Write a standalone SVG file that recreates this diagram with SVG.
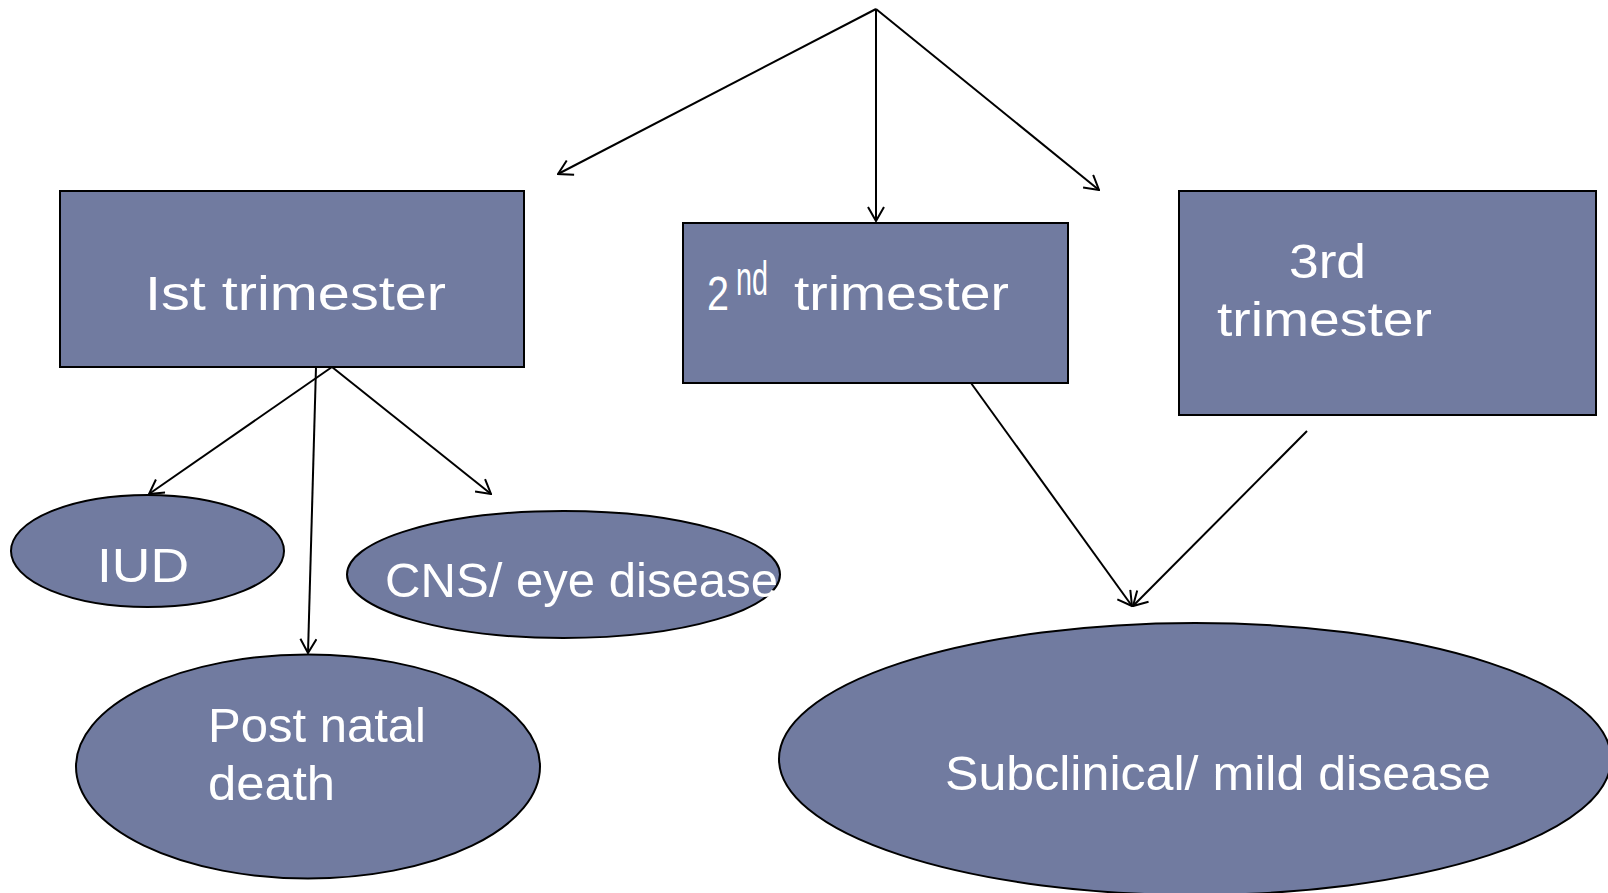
<svg xmlns="http://www.w3.org/2000/svg" width="1608" height="893" viewBox="0 0 1608 893">
<style>
.node{fill:#717BA0;stroke:#000;stroke-width:2}
.t{fill:#fff;font-family:"Liberation Sans",Arial,sans-serif;font-size:48px}
.c{stroke:#000;stroke-width:2;fill:none}
</style>
<defs>
<marker id="ah" viewBox="0 0 16 18" refX="15" refY="9" markerWidth="16" markerHeight="18" markerUnits="userSpaceOnUse" orient="auto">
<path d="M1,1 L15,9 L1,17" fill="none" stroke="#000" stroke-width="2"/>
</marker>
</defs>
<rect width="1608" height="893" fill="#fff"/>
<g id="connectors">
<line class="c" x1="876" y1="9" x2="558" y2="174" marker-end="url(#ah)"/>
<line class="c" x1="876" y1="9" x2="876" y2="221" marker-end="url(#ah)"/>
<line class="c" x1="876" y1="9" x2="1099" y2="190" marker-end="url(#ah)"/>
<line class="c" x1="332" y1="367" x2="149" y2="494" marker-end="url(#ah)"/>
<line class="c" x1="332" y1="367" x2="491" y2="494" marker-end="url(#ah)"/>
<line class="c" x1="316" y1="367" x2="308" y2="653" marker-end="url(#ah)"/>
<line class="c" x1="971" y1="383" x2="1132" y2="606" marker-end="url(#ah)"/>
<line class="c" x1="1307" y1="431" x2="1133" y2="606" marker-end="url(#ah)"/>
</g>
<g id="n1">
<rect class="node" x="60" y="191" width="464" height="176"/>
<text class="t" x="145" y="310" textLength="301" lengthAdjust="spacingAndGlyphs">Ist trimester</text>
</g>
<g id="n2">
<rect class="node" x="683" y="223" width="385" height="160"/>
<text class="t" x="707" y="310" textLength="22" lengthAdjust="spacingAndGlyphs">2</text>
<text class="t" x="736" y="295" font-size="30" textLength="32" lengthAdjust="spacingAndGlyphs">nd</text>
<text class="t" x="794" y="310" textLength="215" lengthAdjust="spacingAndGlyphs">trimester</text>
</g>
<g id="n3">
<rect class="node" x="1179" y="191" width="417" height="224"/>
<text class="t" x="1289" y="278" textLength="77" lengthAdjust="spacingAndGlyphs">3rd</text>
<text class="t" x="1217" y="336" textLength="215" lengthAdjust="spacingAndGlyphs">trimester</text>
</g>
<g id="n4">
<ellipse class="node" cx="147.5" cy="551" rx="136.5" ry="56"/>
<text class="t" x="97" y="582" textLength="92" lengthAdjust="spacingAndGlyphs">IUD</text>
</g>
<g id="n5">
<ellipse class="node" cx="563.5" cy="574.5" rx="216.5" ry="63.5"/>
<text class="t" x="385" y="597" textLength="393" lengthAdjust="spacingAndGlyphs">CNS/ eye disease</text>
</g>
<g id="n6">
<ellipse class="node" cx="308" cy="766.5" rx="232" ry="112"/>
<text class="t" x="208" y="742" textLength="218" lengthAdjust="spacingAndGlyphs">Post natal</text>
<text class="t" x="208" y="800" textLength="127" lengthAdjust="spacingAndGlyphs">death</text>
</g>
<g id="n7">
<ellipse class="node" cx="1195" cy="759" rx="416" ry="136"/>
<text class="t" x="945" y="790" textLength="546" lengthAdjust="spacingAndGlyphs">Subclinical/ mild disease</text>
</g>
</svg>
